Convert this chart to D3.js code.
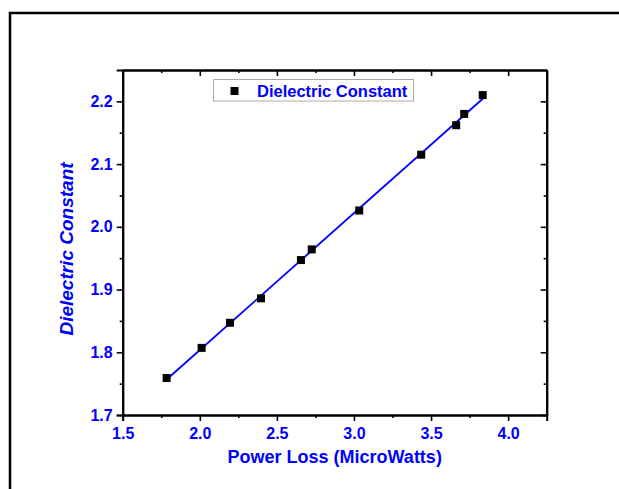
<!DOCTYPE html>
<html>
<head>
<meta charset="utf-8">
<script src="https://cdn.jsdelivr.net/npm/d3@7"></script>
<style>
  body { margin: 0; background: #fff; }
  text { font-family: "Liberation Sans", Arial, sans-serif; font-weight: bold; fill: #0000ff; }
</style>
</head>
<body>
<div id="chart"></div>
<script>
// data
const powerLoss = [1.785, 2.012, 2.196, 2.397, 2.656, 2.726, 3.034, 3.436, 3.663, 3.715, 3.835];
const dielectric = [1.759, 1.807, 1.847, 1.886, 1.947, 1.964, 2.026, 2.115, 2.162, 2.180, 2.210];
const xTicks = [1.5, 2.0, 2.5, 3.0, 3.5, 4.0];
const yTicks = [1.7, 1.8, 1.9, 2.0, 2.1, 2.2];
const seriesName = "Dielectric Constant";

const w = 619, h = 489;
const mLeft = 122.7, mRight = 546.7, mTop = 70, mBottom = 415;

const svg = d3.select('#chart').append('svg')
  .attr('width', w)
  .attr('height', h);

// outer frame (only left and top edges show)
svg.append('path')
  .attr('d', 'M10,' + h + 'L10,13L' + w + ',13')
  .attr('stroke', '#000')
  .attr('stroke-width', 2.5)
  .attr('fill', 'none');

const x = d3.scaleLinear().domain([1.5, 4.25]).range([mLeft, mRight]);
const y = d3.scaleLinear().domain([1.7, 2.25]).range([mBottom, mTop]);

const xMinor = d3.range(1.75, 4.25, 0.5);
const yMinor = d3.range(1.75, 2.25, 0.1);

function styleAxis(g) {
  g.select('.domain').attr('stroke', '#000').attr('stroke-width', 2);
  g.selectAll('.tick line').attr('stroke', '#000').attr('stroke-width', 1.6);
  g.selectAll('text').attr('font-size', 16).attr('fill', '#0000ff')
    .attr('font-family', '"Liberation Sans", Arial, sans-serif').attr('font-weight', 'bold');
}

// bottom
svg.append('g').attr('transform', 'translate(0,' + mBottom + ')')
  .call(d3.axisBottom(x).tickValues(xTicks).tickFormat(d3.format('.1f')).tickSizeOuter(0).tickSize(6).tickPadding(7))
  .call(styleAxis);
svg.append('g').attr('transform', 'translate(0,' + mBottom + ')')
  .call(d3.axisBottom(x).tickValues(xMinor).tickFormat('').tickSize(3).tickSizeOuter(0))
  .call(styleAxis);
// top (inward)
svg.append('g').attr('transform', 'translate(0,' + mTop + ')')
  .call(d3.axisTop(x).tickValues(xTicks).tickFormat('').tickSize(-6).tickSizeOuter(0))
  .call(styleAxis);
svg.append('g').attr('transform', 'translate(0,' + mTop + ')')
  .call(d3.axisTop(x).tickValues(xMinor).tickFormat('').tickSize(-3).tickSizeOuter(0))
  .call(styleAxis);
// left
svg.append('g').attr('transform', 'translate(' + mLeft + ',0)')
  .call(d3.axisLeft(y).tickValues(yTicks).tickFormat(d3.format('.1f')).tickSizeOuter(0).tickSize(6).tickPadding(4))
  .call(styleAxis);
svg.append('g').attr('transform', 'translate(' + mLeft + ',0)')
  .call(d3.axisLeft(y).tickValues(yMinor).tickFormat('').tickSize(3).tickSizeOuter(0))
  .call(styleAxis);
// right (inward)
svg.append('g').attr('transform', 'translate(' + mRight + ',0)')
  .call(d3.axisRight(y).tickValues(yTicks).tickFormat('').tickSize(-6).tickSizeOuter(0))
  .call(styleAxis);
svg.append('g').attr('transform', 'translate(' + mRight + ',0)')
  .call(d3.axisRight(y).tickValues(yMinor).tickFormat('').tickSize(-3).tickSizeOuter(0))
  .call(styleAxis);

// linear fit through the points
const mx = d3.mean(powerLoss), my = d3.mean(dielectric);
let sxy = 0, sxx = 0;
powerLoss.forEach((d, i) => {
  sxy += (d - mx) * (dielectric[i] - my);
  sxx += (d - mx) * (d - mx);
});
const slope = sxy / sxx, icpt = my - slope * mx;
const fitX = d3.extent(powerLoss);
svg.append('path')
  .datum(fitX.map(d => [d, icpt + slope * d]))
  .attr('d', d3.line().x(d => x(d[0])).y(d => y(d[1])))
  .attr('stroke', '#0000ff')
  .attr('stroke-width', 1.8)
  .attr('fill', 'none');

// points
const pts = powerLoss.map((d, i) => ({px: d, dc: dielectric[i]}));
svg.selectAll('rect.pt')
  .data(pts)
  .enter()
  .append('rect')
  .attr('class', 'pt')
  .attr('x', d => x(d.px) - 4)
  .attr('y', d => y(d.dc) - 4)
  .attr('width', 8)
  .attr('height', 8)
  .attr('fill', '#000');

// legend
const lg = svg.append('g');
lg.append('rect')
  .attr('x', 213.5).attr('y', 79.5)
  .attr('width', 200).attr('height', 21.5)
  .attr('fill', '#fff')
  .attr('stroke', '#aaa')
  .attr('stroke-width', 1);
lg.append('rect')
  .attr('x', 230.5).attr('y', 87)
  .attr('width', 8).attr('height', 8)
  .attr('fill', '#000');
lg.append('text')
  .text(seriesName)
  .attr('x', 257)
  .attr('y', 96.5)
  .attr('font-size', 16.5);

// axis titles
svg.append('text')
  .text('Power Loss (MicroWatts)')
  .attr('x', (mLeft + mRight) / 2)
  .attr('y', 463)
  .attr('text-anchor', 'middle')
  .attr('font-size', 18);

svg.append('text')
  .text('Dielectric Constant')
  .attr('transform', 'translate(73,249) rotate(-90)')
  .attr('text-anchor', 'middle')
  .attr('font-style', 'italic')
  .attr('font-size', 19);
</script>
</body>
</html>
